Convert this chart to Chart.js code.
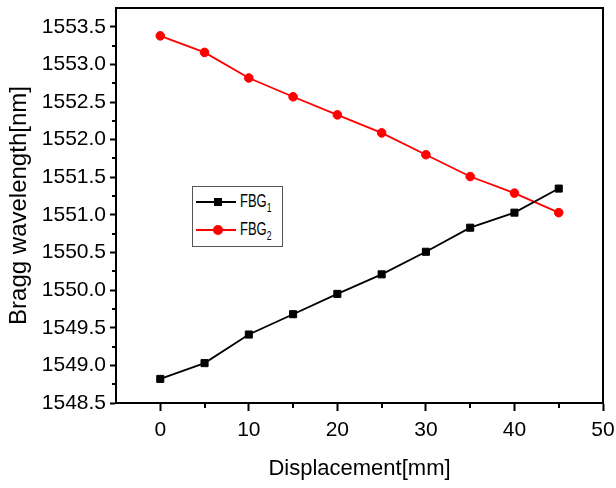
<!DOCTYPE html>
<html>
<head>
<meta charset="utf-8">
<script src="https://cdn.jsdelivr.net/npm/chart.js@4"></script>
<style>
  html, body { margin: 0; padding: 0; background: #fff; }
  #wrap { position: relative; width: 616px; height: 488px; }
  #legend {
    position: absolute; left: 192px; top: 186px; width: 89px; height: 59px;
    border: 1px solid #555; background: #fff;
    font-family: "Liberation Sans", Arial, sans-serif; color: #000;
  }
  .row { position: absolute; left: 0; width: 89px; height: 20px; }
  .ln { position: absolute; left: 3px; width: 40px; top: 9px; height: 2px; }
  .mk { position: absolute; }
  .lab {
    position: absolute; left: 47px; top: -1px; font-size: 18px; line-height: 20px;
    white-space: nowrap; transform: scaleX(0.72); transform-origin: left center;
  }
  .lab sub { font-size: 12px; vertical-align: -5px; }
</style>
</head>
<body>
<div id="wrap">
  <canvas id="chart" width="616" height="488"></canvas>
  <div id="legend">
    <div class="row" style="top:5px">
      <span class="ln" style="background:#000"></span>
      <span class="mk" style="left:21px;top:6px;width:8px;height:8px;background:#000"></span>
      <span class="lab">FBG<sub>1</sub></span>
    </div>
    <div class="row" style="top:33px">
      <span class="ln" style="background:#f00"></span>
      <span class="mk" style="left:20px;top:5px;width:10px;height:10px;border-radius:50%;background:#f00"></span>
      <span class="lab">FBG<sub>2</sub></span>
    </div>
  </div>
</div>
<script>
const displacement = [0, 5, 10, 15, 20, 25, 30, 35, 40, 45];
const fbg1 = [1548.82, 1549.03, 1549.41, 1549.68, 1549.95, 1550.21, 1550.51, 1550.83, 1551.03, 1551.35];
const fbg2 = [1553.38, 1553.16, 1552.82, 1552.57, 1552.33, 1552.09, 1551.80, 1551.51, 1551.29, 1551.03];
const xTicks = [0, 10, 20, 30, 40, 50];
const xMinor = [5, 15, 25, 35, 45];
const yTicks = [1548.5, 1549.0, 1549.5, 1550.0, 1550.5, 1551.0, 1551.5, 1552.0, 1552.5, 1553.0, 1553.5];
const yMinor = [1548.75, 1549.25, 1549.75, 1550.25, 1550.75, 1551.25, 1551.75, 1552.25, 1552.75, 1553.25];

const FONT = '"Liberation Sans", Arial, sans-serif';

// box round the plot and the short minor ticks
const framePlugin = {
  id: 'frame',
  afterDraw(chart) {
    const { ctx, chartArea: a, scales: { x, y } } = chart;
    ctx.save();
    ctx.strokeStyle = '#000';
    ctx.lineWidth = 2;
    ctx.strokeRect(a.left, a.top, a.right - a.left, a.bottom - a.top);
    ctx.beginPath();
    xMinor.forEach(v => {
      const px = Math.round(x.getPixelForValue(v));
      ctx.moveTo(px, a.bottom);
      ctx.lineTo(px, a.bottom + 5);
    });
    yMinor.forEach(v => {
      const py = Math.round(y.getPixelForValue(v));
      ctx.moveTo(a.left, py);
      ctx.lineTo(a.left - 4, py);
    });
    ctx.stroke();
    ctx.restore();
  }
};

new Chart(document.getElementById('chart'), {
  type: 'line',
  data: {
    datasets: [
      {
        label: 'FBG1',
        data: displacement.map((d, i) => ({ x: d, y: fbg1[i] })),
        borderColor: '#000',
        backgroundColor: '#000',
        borderWidth: 1.8,
        pointStyle: 'rect',
        pointRadius: 5,
        pointBorderWidth: 1,
        tension: 0
      },
      {
        label: 'FBG2',
        data: displacement.map((d, i) => ({ x: d, y: fbg2[i] })),
        borderColor: '#f00',
        backgroundColor: '#f00',
        borderWidth: 1.8,
        pointStyle: 'circle',
        pointRadius: 4.3,
        pointBorderWidth: 1,
        tension: 0
      }
    ]
  },
  options: {
    responsive: false,
    animation: false,
    devicePixelRatio: 1,
    layout: { padding: { top: 8, right: 13, left: 0, bottom: 0 } },
    plugins: { legend: { display: false }, tooltip: { enabled: false } },
    scales: {
      x: {
        type: 'linear',
        min: -5,
        max: 50,
        afterBuildTicks: s => { s.ticks = xTicks.map(v => ({ value: v })); },
        afterFit: s => { s.height = 85; s.paddingLeft = 0; s.paddingRight = 0; },
        grid: { display: true, drawOnChartArea: false, drawTicks: true, tickLength: 8, tickWidth: 2, tickColor: '#000' },
        border: { display: true, width: 2, color: '#000' },
        ticks: { padding: 7, maxRotation: 0, color: '#000', font: { family: FONT, size: 21 } },
        title: { display: true, text: 'Displacement[mm]', color: '#000', font: { family: FONT, size: 22 }, padding: { top: 0, bottom: 6 } }
      },
      y: {
        type: 'linear',
        min: 1548.5,
        max: 1553.75,
        afterBuildTicks: s => { s.ticks = yTicks.map(v => ({ value: v })); },
        afterFit: s => { s.width = 116; s.paddingTop = 0; s.paddingBottom = 0; },
        grid: { display: true, drawOnChartArea: false, drawTicks: true, tickLength: 6, tickWidth: 2, tickColor: '#000' },
        border: { display: true, width: 2, color: '#000' },
        ticks: { padding: 4, color: '#000', font: { family: FONT, size: 21 }, callback: v => Number(v).toFixed(1) },
        title: { display: true, text: 'Bragg wavelength[nm]', color: '#000', font: { family: FONT, size: 24 }, padding: { top: 5, bottom: 0 } }
      }
    }
  },
  plugins: [framePlugin]
});
</script>
</body>
</html>
